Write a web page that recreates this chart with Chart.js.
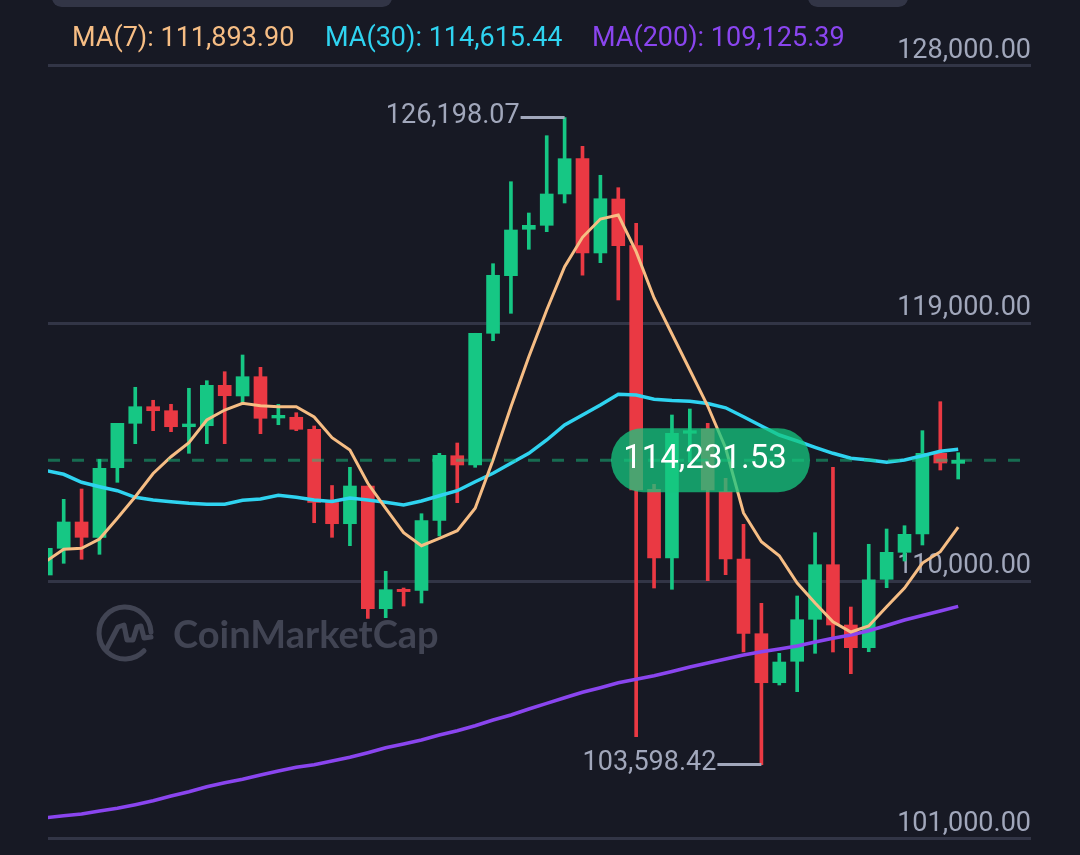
<!DOCTYPE html>
<html>
<head>
<meta charset="utf-8">
<title>BTC MA chart</title>
<script src="https://cdn.jsdelivr.net/npm/chart.js@4"></script>
<style>
  html, body { margin: 0; padding: 0; background: #171924; }
  #wrap { position: relative; width: 1080px; height: 855px; overflow: hidden; font-family: Roboto, sans-serif; }
  #chart { position: absolute; left: 0; top: 0; display: block; }
  .tab { position: absolute; top: -12px; height: 19px; background: #323546; border-radius: 12px; }
  .ma { position: absolute; top: 20px; font-size: 27px; line-height: 34px; white-space: nowrap; }
</style>
</head>
<body>
<div id="wrap">
  <canvas id="chart" width="1080" height="855"></canvas>
  <div class="tab" style="left:52px;width:340px"></div>
  <div class="tab" style="left:808px;width:100px"></div>
  <div class="ma" id="ma7" style="left:72px;color:#f6bd84"></div>
  <div class="ma" id="ma30" style="left:325px;color:#2fd3f0"></div>
  <div class="ma" id="ma200" style="left:592px;color:#8a45ef"></div>
</div>
<script>
// ── Data (USD) ──
const opens = [110220, 111153, 112072, 111537, 113968, 115519, 116099, 115959, 115400, 115435, 116846, 116473, 117147,
  115704, 115729, 115310, 112753, 112012, 113329, 109043, 109720, 109686, 112131, 114387, 114063, 118663,
  120675, 122296, 122435, 123529, 124762, 121468, 123354, 121723, 113214, 110814, 115170, 115320, 113130,
  110779, 108170, 106458, 107206, 108673, 110580, 108474, 107681, 110070, 111013, 111652, 114471, 114120];
const highs = [111153, 112864, 113224, 114262, 115519, 116777, 116323, 116183, 116742, 117007, 117321, 117905, 117475,
  116183, 115889, 115425, 113346, 113982, 113329, 110350, 109766, 112361, 114471, 114831, 118663, 121094,
  123958, 122865, 125565, 126198.07, 125195, 124182, 123749, 122505, 113388, 115809, 116019, 115519, 113598,
  111991, 109232, 107485, 109487, 111698, 113982, 109102, 111293, 111827, 111942, 115261, 116274, 114492];
const lows = [110150, 110629, 110769, 110943, 113458, 114807, 115261, 115226, 114471, 114807, 114807, 116218, 115156,
  115470, 115261, 112047, 111537, 111244, 108708, 108729, 109137, 109242, 111583, 112746, 113982, 118404,
  119361, 121597, 122212, 123214, 120689, 121129, 119826, 104572, 109766, 109721, 114167, 110021, 110231,
  107531, 103598.42, 106378, 106144, 107485, 107531, 106773, 107541, 109777, 110709, 111268, 113888, 113574];
const closes = [111153, 112072, 111537, 113947, 115519, 116099, 115959, 115400, 115495, 116846, 116483, 117147, 115694,
  115798, 115310, 112753, 112012, 113329, 109043, 109707, 109640, 112117, 114401, 114063, 118663, 120689,
  122271, 122435, 123529, 124762, 121468, 123364, 121723, 113189, 110814, 115170, 115261, 113189, 110779,
  108184, 106458, 107181, 108659, 110580, 108474, 107681, 110056, 111013, 111642, 114471, 114132, 114231.53];

const ma7 = [110691, 111118, 111153, 111478, 112201, 112955, 113766, 114352, 114841, 115634, 115984, 116218, 116134,
  116099, 116099, 115739, 115016, 114586, 113423, 112550, 111698, 111244, 111502, 111768, 112550, 114237,
  116099, 117845, 119477, 120989, 122016, 122655, 122795, 121513, 119896, 118638, 117381, 116123, 114656,
  112386, 111383, 110894, 109941, 109242, 108589, 108229, 108439, 109113, 109766, 110639, 111034, 111893.90];
const ma30 = [113870, 113738, 113458, 113305, 113165, 112934, 112840, 112781, 112725, 112690, 112690, 112830, 112875,
  113004, 112934, 112840, 112788, 112910, 112840, 112760, 112665, 112805, 112990, 113165, 113479, 113773,
  114122, 114471, 114936, 115460, 115809, 116158, 116532, 116508, 116357, 116316, 116291, 116211, 116061,
  115750, 115425, 115110, 114901, 114681, 114471, 114297, 114237, 114157, 114237, 114387, 114541, 114615.44];
const ma200 = [101743, 101813, 101872, 101977, 102071, 102197, 102337, 102501, 102651, 102826, 102965, 103084, 103234,
  103374, 103503, 103594, 103723, 103852, 104013, 104188, 104317, 104457, 104631, 104782, 104956, 105155,
  105330, 105540, 105739, 105934, 106123, 106284, 106458, 106577, 106703, 106849, 107007, 107146, 107286,
  107426, 107541, 107635, 107740, 107880, 108009, 108124, 108275, 108456, 108648, 108806, 108963, 109125.39];

const yTicks = [128000, 119000, 110000, 101000];
const lastPrice = 114231.53;
const highPrice = 126198.07;
const lowPrice = 103598.42;

// ── Colours ──
const GREEN = '#16c784';
const RED = '#ea3943';
const GRID = '#323546';
const MUTED = '#a1a7bb';
const ORANGE = '#f6bd84';
const CYAN = '#2fd3f0';
const PURPLE = '#8a45ef';
const MARK = '#414453';

const fmt = v => v.toLocaleString('en-US', { minimumFractionDigits: 2, maximumFractionDigits: 2 });

document.getElementById('ma7').textContent = 'MA(7): ' + fmt(ma7[ma7.length - 1]);
document.getElementById('ma30').textContent = 'MA(30): ' + fmt(ma30[ma30.length - 1]);
document.getElementById('ma200').textContent = 'MA(200): ' + fmt(ma200[ma200.length - 1]);

const candleColor = ctx => closes[ctx.dataIndex] >= opens[ctx.dataIndex] ? GREEN : RED;
const maLine = (label, data, color, width) => ({
  type: 'line', label, order: 1, data: data.map((y, x) => ({ x, y })),
  borderColor: color, borderWidth: width, pointRadius: 0, tension: 0, fill: false
});

// ── Watermark, drawn under the candles ──
const watermark = {
  id: 'watermark',
  beforeDatasetsDraw(chart) {
    const c = chart.ctx;
    c.save();
    c.strokeStyle = MARK;
    c.lineWidth = 5;
    c.lineCap = 'round';
    c.lineJoin = 'round';
    c.beginPath();
    c.arc(125, 633, 26, 0.75, 6.25);
    c.stroke();
    c.beginPath();
    c.moveTo(106, 650);
    c.lineTo(118, 627);
    c.lineTo(124, 625);
    c.lineTo(127, 640);
    c.lineTo(133, 640);
    c.lineTo(137, 627);
    c.lineTo(141, 626);
    c.lineTo(144, 638);
    c.lineTo(151, 637);
    c.stroke();
    c.fillStyle = MARK;
    c.font = '700 38px Lato, sans-serif';
    c.textAlign = 'left';
    c.textBaseline = 'middle';
    c.fillText('CoinMarketCap', 173, 636);
    c.restore();
  }
};

// ── Price line, high/low callouts and the last price pill ──
const overlays = {
  id: 'overlays',
  afterDatasetsDraw(chart) {
    const c = chart.ctx;
    const { x, y } = chart.scales;
    const area = chart.chartArea;
    const lastY = y.getPixelForValue(lastPrice);
    c.save();

    c.strokeStyle = 'rgba(22,199,132,0.48)';
    c.lineWidth = 3;
    c.setLineDash([12, 12]);
    c.beginPath();
    c.moveTo(area.left, lastY);
    c.lineTo(area.right - 11, lastY);
    c.stroke();
    c.setLineDash([]);

    c.font = '27px Roboto, sans-serif';
    c.textBaseline = 'middle';
    c.textAlign = 'right';
    c.fillStyle = MUTED;
    c.strokeStyle = MUTED;
    c.lineWidth = 3;
    [[highs.indexOf(highPrice), highPrice], [lows.indexOf(lowPrice), lowPrice]].forEach(([i, price]) => {
      const px = x.getPixelForValue(i);
      const py = y.getPixelForValue(price);
      c.beginPath();
      c.moveTo(px - 44, py);
      c.lineTo(px, py);
      c.stroke();
      c.fillText(fmt(price), px - 45, py - 1);
    });

    c.fillStyle = 'rgba(22,199,127,0.75)';
    c.beginPath();
    c.roundRect(611, lastY - 32, 199, 64, 32);
    c.fill();
    c.fillStyle = '#ffffff';
    c.font = '33px Roboto, sans-serif';
    c.textAlign = 'center';
    c.fillText(fmt(lastPrice), 705, lastY);
    c.restore();
  }
};

// ── Chart ──
new Chart(document.getElementById('chart'), {
  type: 'bar',
  data: {
    datasets: [
      maLine('MA(7)', ma7, ORANGE, 3),
      maLine('MA(30)', ma30, CYAN, 3.5),
      maLine('MA(200)', ma200, PURPLE, 3.5),
      {
        label: 'Body', order: 2, grouped: false, barThickness: 13,
        data: opens.map((o, i) => ({ x: i, y: [o, closes[i]] })),
        backgroundColor: candleColor, borderWidth: 0, borderSkipped: false
      },
      {
        label: 'Wick', order: 3, grouped: false, barThickness: 3,
        data: highs.map((h, i) => ({ x: i, y: [lows[i], h] })),
        backgroundColor: candleColor, borderWidth: 0, borderSkipped: false
      }
    ]
  },
  options: {
    responsive: false,
    animation: false,
    layout: { padding: { left: 48, right: 49, top: 0, bottom: 0 } },
    plugins: { legend: { display: false }, tooltip: { enabled: false } },
    scales: {
      x: { type: 'linear', display: false, offset: false, min: 0.123, max: 55.07 },
      y: {
        type: 'linear',
        position: 'right',
        min: 100440,
        max: 130305,
        afterBuildTicks: axis => { axis.ticks = yTicks.map(value => ({ value })); },
        afterFit: axis => { axis.paddingTop = 0; axis.paddingBottom = 0; },
        border: { display: false },
        grid: { color: GRID, lineWidth: 3, drawTicks: false },
        ticks: {
          mirror: true,
          padding: 0,
          labelOffset: -15,
          color: MUTED,
          font: { family: 'Roboto, sans-serif', size: 27 },
          callback: fmt
        }
      }
    }
  },
  plugins: [watermark, overlays]
});
</script>
</body>
</html>
